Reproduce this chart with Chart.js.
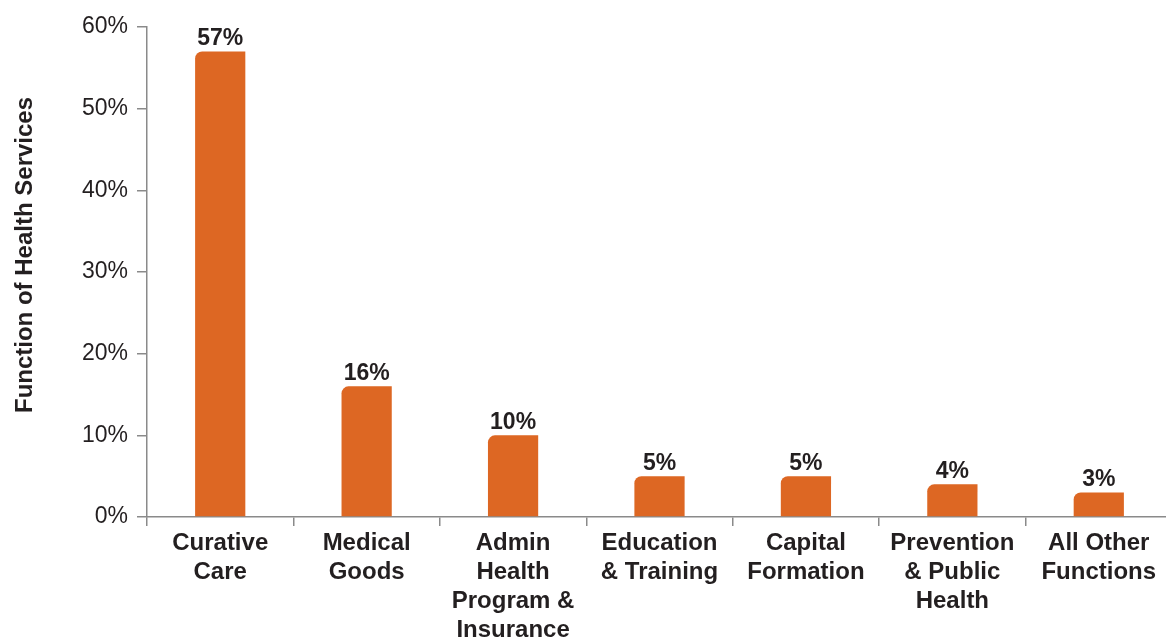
<!DOCTYPE html>
<html>
<head>
<meta charset="utf-8">
<script src="https://cdn.jsdelivr.net/npm/chart.js@4/dist/chart.umd.min.js"></script>
<style>
  html, body { margin: 0; padding: 0; background: #fff; }
  #wrap { width: 1166px; height: 637px; overflow: hidden; }
</style>
</head>
<body>
<div id="wrap"><canvas id="chart" width="1172" height="637"></canvas></div>
<script>
// 各项卫生服务支出占比
const categories = [
  ['Curative', 'Care'],
  ['Medical', 'Goods'],
  ['Admin', 'Health', 'Program &', 'Insurance'],
  ['Education', '& Training'],
  ['Capital', 'Formation'],
  ['Prevention', '& Public', 'Health'],
  ['All Other', 'Functions']
]
const shares = [57, 16, 10, 5, 5, 4, 3]
const yTicks = [0, 10, 20, 30, 40, 50, 60]
const yTitle = 'Function of Health Services'

const TEXT = '#231f20'
const AXIS = '#8a8a8a'
const BAR = '#dd6723'
const FONT = "'Liberation Sans', Arial, sans-serif"

// 柱顶数值标签 + 纵轴标题
const valueLabels = {
  id: 'valueLabels',
  afterDatasetsDraw(chart) {
    const ctx = chart.ctx
    const meta = chart.getDatasetMeta(0)
    ctx.save()
    ctx.font = `bold 23px ${FONT}`
    ctx.fillStyle = TEXT
    ctx.textAlign = 'center'
    ctx.textBaseline = 'bottom'
    meta.data.forEach((bar, i) => {
      ctx.fillText(shares[i] + '%', bar.x, bar.y - 1)
    })
    // 标题略高于绘图区中线
    ctx.font = `bold 24px ${FONT}`
    ctx.textBaseline = 'middle'
    ctx.translate(25, 255)
    ctx.rotate(-Math.PI / 2)
    ctx.fillText(yTitle, 0, 0)
    ctx.restore()
  }
}

new Chart(document.getElementById('chart'), {
  type: 'bar',
  data: {
    labels: categories,
    datasets: [{
      data: shares,
      backgroundColor: BAR,
      borderWidth: 0,
      borderRadius: { topLeft: 7, topRight: 0, bottomLeft: 0, bottomRight: 0 },
      borderSkipped: false,
      barPercentage: 0.343,
      categoryPercentage: 1
    }]
  },
  options: {
    responsive: false,
    animation: false,
    layout: { padding: { top: 27, right: 0, bottom: 0, left: 0 } },
    plugins: {
      legend: { display: false },
      tooltip: { enabled: false }
    },
    scales: {
      x: {
        grid: {
          offset: true,
          drawOnChartArea: false,
          drawTicks: true,
          tickLength: 9,
          color: AXIS,
          lineWidth: 1.5
        },
        border: { color: AXIS, width: 1.5 },
        ticks: {
          autoSkip: false,
          maxRotation: 0,
          minRotation: 0,
          padding: 3,
          color: TEXT,
          font: { family: FONT, size: 24, weight: 'bold', lineHeight: 1.21 }
        },
        afterFit(scale) { scale.height = 120 }
      },
      y: {
        min: 0,
        max: 60,
        afterBuildTicks(scale) { scale.ticks = yTicks.map(v => ({ value: v })) },
        grid: {
          drawOnChartArea: false,
          drawTicks: true,
          tickLength: 10,
          color: AXIS,
          lineWidth: 1.5
        },
        border: { color: AXIS, width: 1.5 },
        ticks: {
          padding: 9,
          color: TEXT,
          font: { family: FONT, size: 23 },
          callback: v => v + '%'
        },
        afterFit(scale) { scale.width = 147 }
      }
    }
  },
  plugins: [valueLabels]
})
</script>
</body>
</html>
